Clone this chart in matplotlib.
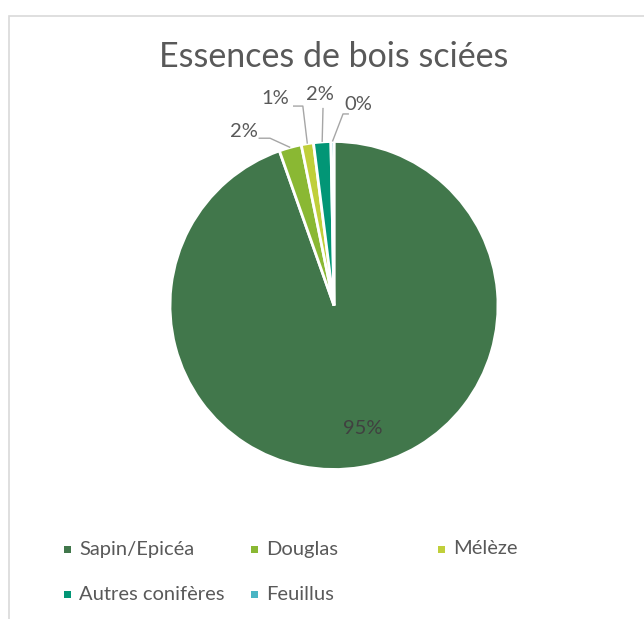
import numpy as np
import matplotlib
matplotlib.use("Agg")
import matplotlib.pyplot as plt
from matplotlib.patches import Rectangle

plt.rcParams['font.family'] = ['Lato', 'DejaVu Sans']

title = "Essences de bois sciées"
categories = ["Sapin/Epicéa", "Douglas", "Mélèze", "Autres conifères", "Feuillus"]
values = [94.6, 2.2, 1.2, 1.7, 0.3]
colors = ["#41774b", "#8ab833", "#c0cf3a", "#029676", "#4ab5c4"]

TXT = "#595959"
LEAD = "#a6a6a6"

W, H = 644, 619
fig = plt.figure(figsize=(W / 100, H / 100), dpi=100)

# frame
fig.add_artist(Rectangle((9 / W, -0.05), 1.2, 1 - 16 / H + 0.05, transform=fig.transFigure,
                         fill=False, edgecolor="#d9d9d9", lw=1.2))

# axes so that pie centre at (334, 305.5) px, radius 164 px
R = 164.0
cx, cy = 334.0, 305.5
lim = 1.4
ax = fig.add_axes([(cx - lim * R) / W, 1 - (cy + lim * R) / H, 2 * lim * R / W, 2 * lim * R / H])

wedges, _ = ax.pie(values, colors=colors, startangle=90, counterclock=False, radius=1.0,
                   wedgeprops=dict(edgecolor="white", linewidth=2.0))
ax.set_xlim(-lim, lim)
ax.set_ylim(-lim, lim)
ax.set_aspect("equal")
ax.axis("off")

pct = [f"{round(v)}%" for v in values]

# big slice label inside
w0 = wedges[0]
mid0 = np.deg2rad((w0.theta1 + w0.theta2) / 2)
ax.text(0.76 * np.cos(mid0) + 0.05, 0.76 * np.sin(mid0), pct[0], ha="center", va="center",
        fontsize=14.5, color="#404040")

# outside labels with leaders: (text pos, leader start, elbow)
label_layout = {
    1: ((-0.55, 1.06), (-0.46, 1.02), (-0.39, 1.02)),
    2: ((-0.36, 1.26), (-0.25, 1.216), (-0.19, 1.216)),
    3: ((-0.085, 1.285), (-0.067, 1.205), (-0.067, 1.205)),
    4: ((0.148, 1.225), (0.091, 1.168), (0.055, 1.168)),
}
for i, (tpos, start, elbow) in label_layout.items():
    w = wedges[i]
    mid = np.deg2rad((w.theta1 + w.theta2) / 2)
    end = (1.0 * np.cos(mid), 1.0 * np.sin(mid))
    ax.plot([start[0], elbow[0], end[0]], [start[1], elbow[1], end[1]], color=LEAD, lw=1.0,
            solid_capstyle="butt")
    ax.text(tpos[0], tpos[1], pct[i], ha="center", va="center", fontsize=14.5, color=TXT)

fig.text(cx / W, 1 - 57 / H, title, ha="center", va="center", fontsize=24.5, color=TXT)

# legend (Excel-like fixed grid)
leg_pos = [(64, 549), (251, 549), (438, 549), (64, 594), (251, 594)]
for (lx, ly), lab, col in zip(leg_pos, categories, colors):
    fig.add_artist(Rectangle((lx / W, 1 - (ly + 3.5) / H), 7 / W, 7 / H, transform=fig.transFigure,
                             facecolor=col, edgecolor="none"))
    fig.text((lx + 15) / W, 1 - ly / H, lab, ha="left", va="center", fontsize=14.5, color=TXT)

fig.savefig("out.png", dpi=100, facecolor="white")
